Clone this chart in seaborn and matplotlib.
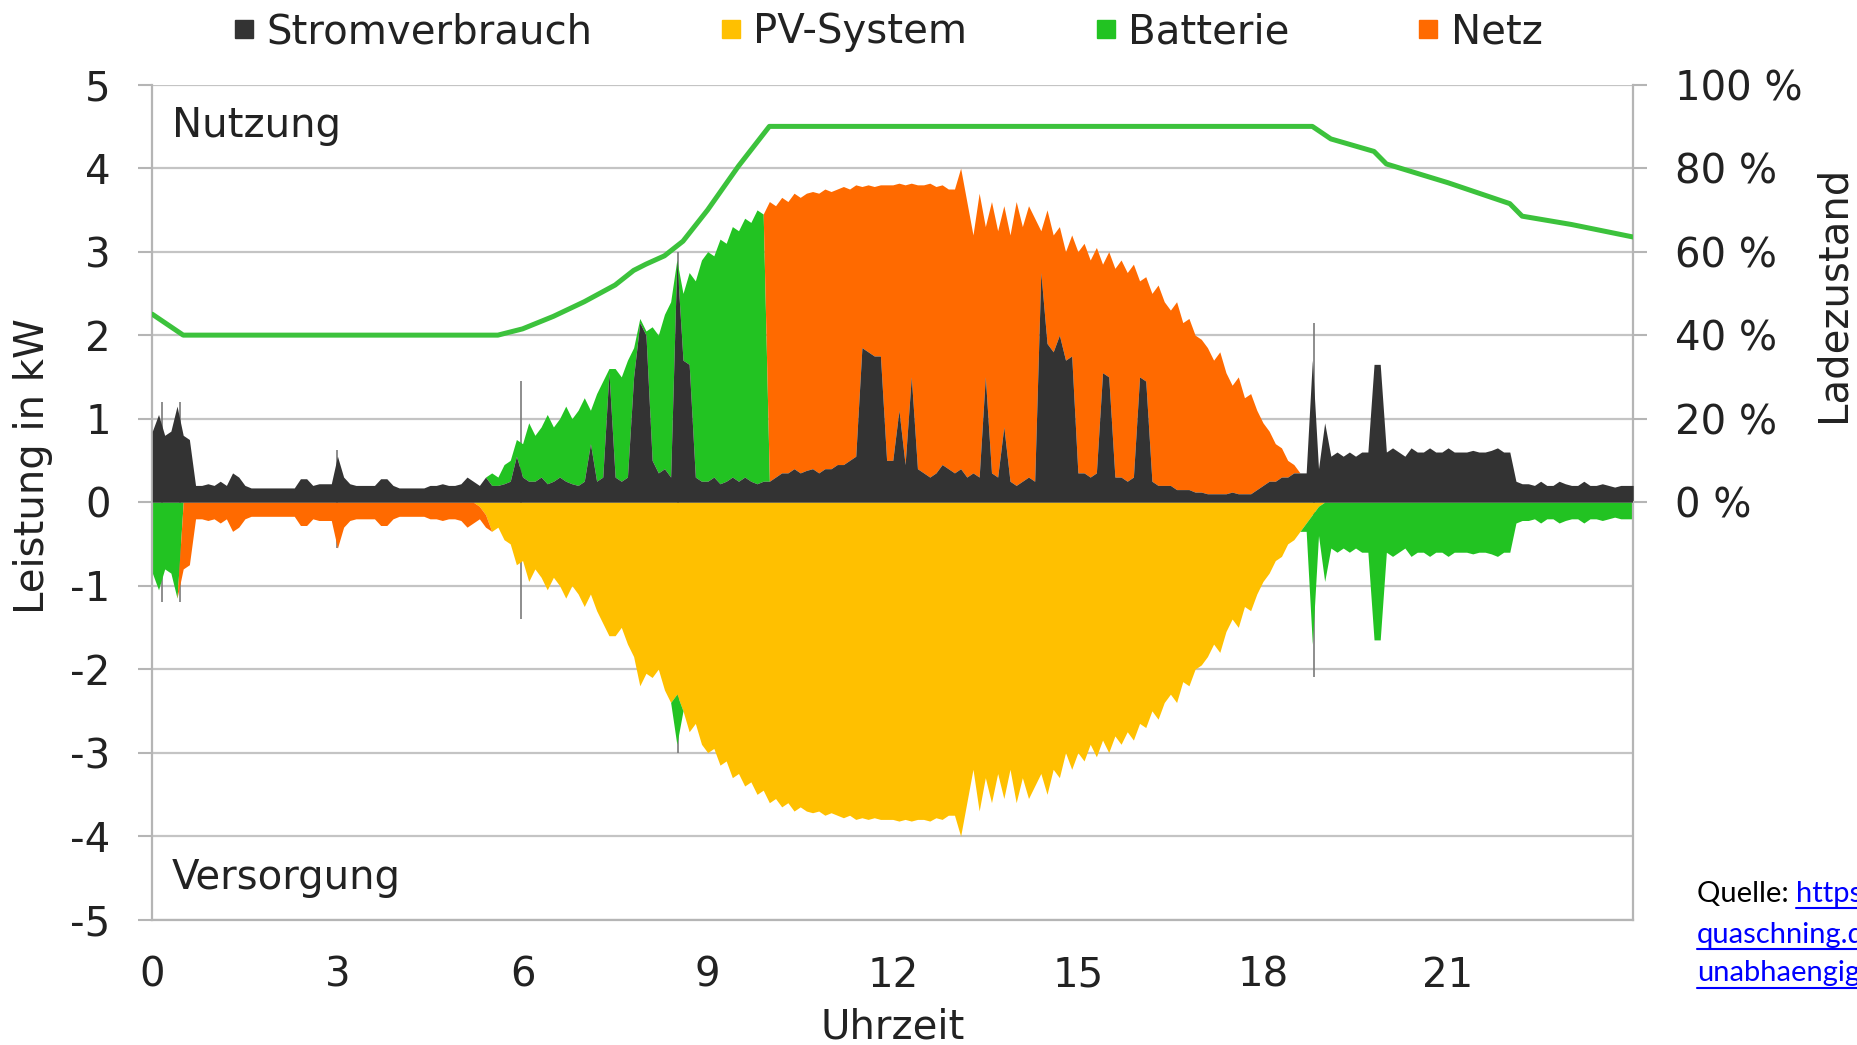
import numpy as np
import matplotlib.pyplot as plt
import seaborn as sns
from matplotlib.lines import Line2D

# Zeitachse in 0,1-h-Schritten (0 ... 24 h)
stunden = np.round(np.arange(241) * 0.1, 1)

# Stromverbrauch in kW, eine Zeile je Stunde
verbrauch = np.array([
    0.85, 1.05, 0.8, 0.85, 1.15, 0.8, 0.75, 0.2, 0.2, 0.22,
    0.2, 0.25, 0.2, 0.35, 0.3, 0.2, 0.17, 0.17, 0.17, 0.17,
    0.17, 0.17, 0.17, 0.17, 0.28, 0.28, 0.2, 0.22, 0.22, 0.22,
    0.55, 0.3, 0.22, 0.2, 0.2, 0.2, 0.2, 0.28, 0.28, 0.2,
    0.17, 0.17, 0.17, 0.17, 0.17, 0.2, 0.2, 0.22, 0.2, 0.2,
    0.22, 0.3, 0.25, 0.2, 0.3, 0.2, 0.2, 0.22, 0.25, 0.55,
    0.3, 0.25, 0.25, 0.3, 0.22, 0.25, 0.3, 0.25, 0.22, 0.2,
    0.25, 0.7, 0.25, 0.3, 1.55, 0.3, 0.25, 0.3, 1.5, 2.15,
    2.0, 0.5, 0.35, 0.4, 0.3, 2.9, 1.7, 1.65, 0.3, 0.25,
    0.25, 0.3, 0.22, 0.25, 0.3, 0.25, 0.3, 0.25, 0.22, 0.25,
    0.25, 0.3, 0.35, 0.35, 0.4, 0.35, 0.38, 0.4, 0.35, 0.4,
    0.4, 0.45, 0.45, 0.5, 0.55, 1.85, 1.8, 1.75, 1.75, 0.5,
    0.5, 1.1, 0.45, 1.5, 0.4, 0.35, 0.3, 0.35, 0.45, 0.4,
    0.35, 0.4, 0.3, 0.35, 0.3, 1.5, 0.35, 0.3, 0.9, 0.25,
    0.2, 0.25, 0.3, 0.25, 2.75, 1.9, 1.8, 2.0, 1.7, 1.75,
    0.35, 0.35, 0.3, 0.35, 1.55, 1.5, 0.3, 0.3, 0.25, 0.3,
    1.5, 1.45, 0.25, 0.2, 0.2, 0.2, 0.15, 0.15, 0.15, 0.12,
    0.12, 0.1, 0.1, 0.1, 0.1, 0.12, 0.1, 0.1, 0.1, 0.15,
    0.2, 0.25, 0.25, 0.3, 0.3, 0.35, 0.35, 0.35, 1.7, 0.4,
    0.95, 0.55, 0.6, 0.55, 0.6, 0.55, 0.6, 0.6, 1.65, 1.65,
    0.6, 0.65, 0.6, 0.55, 0.65, 0.6, 0.6, 0.65, 0.6, 0.6,
    0.65, 0.6, 0.6, 0.6, 0.62, 0.6, 0.6, 0.62, 0.65, 0.6,
    0.6, 0.25, 0.22, 0.22, 0.2, 0.25, 0.2, 0.2, 0.25, 0.22,
    0.2, 0.2, 0.25, 0.2, 0.2, 0.22, 0.2, 0.18, 0.2, 0.2, 0.2,
])

# PV-Erzeugung in kW
pv = np.array([
    0, 0, 0, 0, 0, 0, 0, 0, 0, 0,
    0, 0, 0, 0, 0, 0, 0, 0, 0, 0,
    0, 0, 0, 0, 0, 0, 0, 0, 0, 0,
    0, 0, 0, 0, 0, 0, 0, 0, 0, 0,
    0, 0, 0, 0, 0, 0, 0, 0, 0, 0,
    0, 0, 0, 0.05, 0.15, 0.35, 0.3, 0.45, 0.5, 0.75,
    0.7, 0.95, 0.8, 0.9, 1.05, 0.9, 1.0, 1.15, 1.0, 1.1,
    1.25, 1.1, 1.3, 1.45, 1.6, 1.6, 1.5, 1.7, 1.85, 2.2,
    2.05, 2.1, 2.0, 2.25, 2.4, 2.3, 2.5, 2.75, 2.65, 2.9,
    3.0, 2.95, 3.15, 3.1, 3.3, 3.25, 3.4, 3.35, 3.5, 3.45,
    3.6, 3.55, 3.65, 3.6, 3.7, 3.65, 3.7, 3.72, 3.7, 3.75,
    3.72, 3.75, 3.78, 3.75, 3.8, 3.78, 3.8, 3.78, 3.8, 3.8,
    3.8, 3.82, 3.8, 3.82, 3.8, 3.8, 3.82, 3.78, 3.8, 3.75,
    3.75, 4.0, 3.6, 3.2, 3.7, 3.3, 3.6, 3.25, 3.55, 3.2,
    3.6, 3.3, 3.55, 3.4, 3.25, 3.5, 3.2, 3.3, 3.0, 3.2,
    3.0, 3.1, 2.9, 3.05, 2.85, 3.0, 2.8, 2.9, 2.75, 2.85,
    2.65, 2.7, 2.5, 2.6, 2.4, 2.3, 2.4, 2.15, 2.2, 2.0,
    1.95, 1.85, 1.7, 1.8, 1.55, 1.4, 1.5, 1.25, 1.3, 1.1,
    0.95, 0.85, 0.7, 0.65, 0.5, 0.45, 0.35, 0.25, 0.15, 0.05,
    0, 0, 0, 0, 0, 0, 0, 0, 0, 0,
    0, 0, 0, 0, 0, 0, 0, 0, 0, 0,
    0, 0, 0, 0, 0, 0, 0, 0, 0, 0,
    0, 0, 0, 0, 0, 0, 0, 0, 0, 0,
    0, 0, 0, 0, 0, 0, 0, 0, 0, 0, 0,
])

# Ladezustand der Batterie in %
soc_stunden = [0, 0.5, 5.6, 6.0, 6.5, 7.0, 7.5, 7.8, 8.0, 8.3, 8.6, 9.0, 9.5, 10.0,
               18.8, 19.1, 19.8, 20.0, 21.0, 22.0, 22.2, 23.0, 24.0]
soc_prozent = [45, 40, 40, 41.5, 44.5, 48, 52, 55.5, 57, 59, 62.5, 70, 80.5, 90,
               90, 87, 84, 81, 76.5, 71.5, 68.5, 66.5, 63.5]
soc_min, soc_max = 40, 90

# kurze Messspitzen (duenne Linien)
spitzen_h = [0.15, 0.45, 3.0, 5.97, 8.52, 18.82]
spitzen_oben = [1.2, 1.2, 0.62, 1.45, 3.0, 2.15]
spitzen_unten = [-1.2, -1.2, -0.55, -1.4, -3.0, -2.1]

kategorien = ["Stromverbrauch", "PV-System", "Batterie", "Netz"]
farben = ["#333333", "#ffc000", "#22c322", "#ff6a00"]
c_verbr, c_pv, c_batt, c_netz = farben

# Energiefluesse aufteilen
soc_t = np.interp(stunden, soc_stunden, soc_prozent)
voll = soc_t >= soc_max - 1e-9
leer = soc_t <= soc_min + 1e-9
ueberschuss = np.clip(pv - verbrauch, 0, None)
defizit = np.clip(verbrauch - pv, 0, None)
laden = np.where(voll, 0, ueberschuss)
einspeisen = np.where(voll, ueberschuss, 0)
entladen = np.where(leer, 0, defizit)
bezug = np.where(leer, defizit, 0)

sns.set_theme(style="white")
plt.rcParams['font.family'] = ['DejaVu Sans']
plt.rcParams['axes.unicode_minus'] = False
txt = "#222222"

fig, ax = plt.subplots(figsize=(18.58, 10.45), dpi=100)
fig.subplots_adjust(left=0.082, right=0.879, top=0.919, bottom=0.120)

for yv in range(-5, 6):
    ax.axhline(yv, color="#c4c4c4", lw=1.6, zorder=0)

# Nutzung (positiv)
ax.fill_between(stunden, 0, verbrauch, color=c_verbr, lw=0, zorder=3)
ax.fill_between(stunden, verbrauch, verbrauch + laden, color=c_batt, lw=0, zorder=2)
ax.fill_between(stunden, verbrauch + laden, verbrauch + laden + einspeisen,
                color=c_netz, lw=0, zorder=2)
# Versorgung (negativ)
ax.fill_between(stunden, 0, -pv, color=c_pv, lw=0, zorder=2)
ax.fill_between(stunden, -pv, -pv - entladen, color=c_batt, lw=0, zorder=2)
ax.fill_between(stunden, -pv - entladen, -pv - entladen - bezug, color=c_netz, lw=0, zorder=2)

ax.vlines(spitzen_h, spitzen_unten, spitzen_oben, color="#7a7a7a", lw=1.2, zorder=1)

ax.set_xlim(0, 24)
ax.set_ylim(-5, 5)
ax.set_xticks(range(0, 24, 3))
ax.set_yticks(range(-5, 6))
ax.tick_params(axis="x", length=0, pad=26, labelsize=29, labelcolor=txt)
ax.tick_params(axis="y", length=10, width=1.5, color="#b5b5b5", pad=20, labelsize=29,
               labelcolor=txt, left=True)
ax.set_xlabel("Uhrzeit", fontsize=29, color=txt, va="top")
ax.xaxis.set_label_coords(0.5, -0.105)
ax.set_ylabel("Leistung in kW", fontsize=29, color=txt)
ax.yaxis.set_label_coords(-0.067, 0.543)
for s in ["left", "bottom", "right"]:
    ax.spines[s].set_color("#b5b5b5")
    ax.spines[s].set_linewidth(1.6)
ax.spines["top"].set_visible(False)

ax.text(0.32, 4.5, "Nutzung", fontsize=29, color=txt, va="center", ha="left")
ax.text(0.32, -4.5, "Versorgung", fontsize=29, color=txt, va="center", ha="left")

# Ladezustand auf rechter Achse
ax2 = ax.twinx()
sns.lineplot(x=soc_stunden, y=soc_prozent, ax=ax2, color="#3cc23c", lw=3.6)
ax2.set_ylim(-100, 100)
ax2.set_yticks([0, 20, 40, 60, 80, 100])
ax2.set_yticklabels([f"{v} %" for v in [0, 20, 40, 60, 80, 100]])
ax2.tick_params(axis="y", length=10, width=1.5, color="#b5b5b5", pad=20, labelsize=29,
                labelcolor=txt, right=True)
ax2.set_ylabel("")
for s in ax2.spines.values():
    s.set_visible(False)
ax2.text(1.135, 0.75, "Ladezustand", rotation=90, fontsize=29, color=txt,
         ha="center", va="center", transform=ax.transAxes)

handles = [Line2D([], [], marker="s", linestyle="", markersize=13, color=c) for c in farben]
fig.legend(handles, kategorien, loc="center", bbox_to_anchor=(0.478, 0.969), ncol=4,
           frameon=False, fontsize=29, handlelength=0.5, handletextpad=0.3,
           columnspacing=3.2, labelcolor=txt)

# Quellenangabe (wie im Original am rechten Rand abgeschnitten)
fig.canvas.draw()
rend = fig.canvas.get_renderer()
W = fig.bbox.width
q = fig.text(0.9133, 0.137, "Quelle: ", fontsize=21, family="Lato", color="black", va="baseline")
fig.canvas.draw()
x_link = q.get_window_extent(rend).x1 / W
zeilen = [(x_link, 0.137, "https://www.volker-"),
          (0.9133, 0.098, "quaschning.de/artikel/pv-speicher-"),
          (0.9133, 0.061, "unabhaengigkeit/index.php")]
for x0, y0, s in zeilen:
    t = fig.text(x0, y0, s, fontsize=21, family="Lato", color="#0000ff", va="baseline")
    fig.canvas.draw()
    x1 = t.get_window_extent(rend).x1 / W
    fig.add_artist(Line2D([x0, x1], [y0 - 0.006, y0 - 0.006], transform=fig.transFigure,
                          color="#0000ff", lw=1.5))

fig.savefig("out.png", dpi=100)
